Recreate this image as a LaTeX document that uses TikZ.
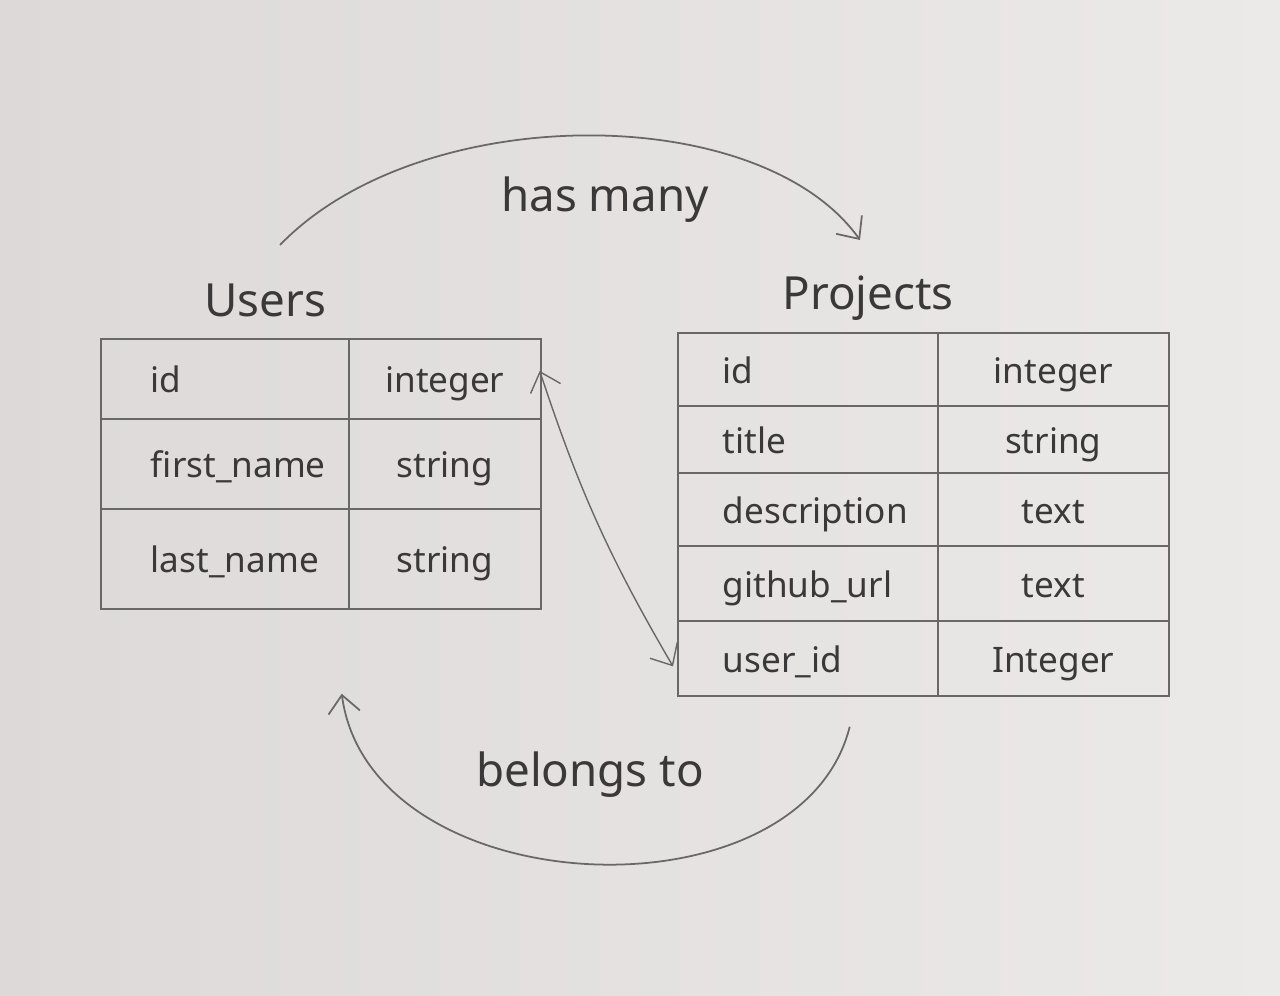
\documentclass[tikz,border=0pt]{standalone}
\usepackage{fontspec}
\setmainfont{Noto Sans}
\usetikzlibrary{arrows.meta}
\definecolor{paperL}{RGB}{220,217,216}
\definecolor{paperR}{RGB}{236,234,233}
\definecolor{ink}{RGB}{58,56,56}
\definecolor{pencil}{RGB}{105,103,103}
\newcommand\hand{\fontsize{20}{24}\selectfont}
\newcommand\lbl{\fontsize{26}{30}\selectfont}
\newcommand\padl{\hspace*{1cm}}
\newcommand\padp{\hspace*{0.9cm}}
\tikzset{
  cell/.style={draw=pencil, line width=1pt, anchor=north west, inner sep=0pt, font=\hand, text=ink,
    text height=20pt, text depth=4pt},
  ncell/.style 2 args={cell, text width=#1, minimum height=#2, align=left},
  tcell/.style 2 args={cell, minimum width=#1, minimum height=#2},
  title/.style={font=\lbl, text=ink},
  arr/.style={draw=pencil, line width=1pt, ->},
  dbl/.style={draw=pencil, line width=0.8pt, <->},
}
\begin{document}
\begin{tikzpicture}[x=0.02cm, y=-0.02cm, >={Straight Barb[length=10pt,width=18pt]}]
\useasboundingbox (0,0) rectangle (1280,996);
\shade[left color=paperL, right color=paperR] (0,0) rectangle (1280,996);

% Users table
\node[ncell={4.96cm}{1.6cm}] (u1n) at (100,338) {\padl id};
\node[tcell={3.84cm}{1.6cm}] (u1t) at (348,338) {integer};
\node[ncell={4.96cm}{1.8cm}] (u2n) at (100,418) {\padl first\_name};
\node[tcell={3.84cm}{1.8cm}] (u2t) at (348,418) {string};
\node[ncell={4.96cm}{2.0cm}] (u3n) at (100,508) {\padl last\_name};
\node[tcell={3.84cm}{2.0cm}] (u3t) at (348,508) {string};

% Projects table
\node[ncell={5.2cm}{1.46cm}] (p1n) at (677,332) {\padp id};
\node[tcell={4.62cm}{1.46cm}] (p1t) at (937,332) {integer};
\node[ncell={5.2cm}{1.34cm}] (p2n) at (677,405) {\padp title};
\node[tcell={4.62cm}{1.34cm}] (p2t) at (937,405) {string};
\node[ncell={5.2cm}{1.46cm}] (p3n) at (677,472) {\padp description};
\node[tcell={4.62cm}{1.46cm}] (p3t) at (937,472) {text};
\node[ncell={5.2cm}{1.5cm}] (p4n) at (677,545) {\padp github\_url};
\node[tcell={4.62cm}{1.5cm}] (p4t) at (937,545) {text};
\node[ncell={5.2cm}{1.5cm}] (p5n) at (677,620) {\padp user\_id};
\node[tcell={4.62cm}{1.5cm}] (p5t) at (937,620) {Integer};

% titles and labels
\node[title] (ut) at (265,300) {Users};
\node[title] (pt) at (868,298) {Projects};
\node[title] (hm) at (605,200) {has many};
\node[title] (bt) at (590,775) {belongs to};

% connectors
\draw[arr] ([shift={(15,-55)}]ut.center) .. controls (420,100) and (760,100) .. ([shift={(-8,-58)}]pt.center);
\draw[arr] ([shift={(-89,30)}]p5n.south east) .. controls (800,925) and (370,905) .. ([shift={(-8,84)}]u3n.south east);
\draw[dbl] ([shift={(-2,-8)}]u1t.east) to[bend right=6] ([shift={(-4,8)}]p5n.west);
\end{tikzpicture}
\end{document}
